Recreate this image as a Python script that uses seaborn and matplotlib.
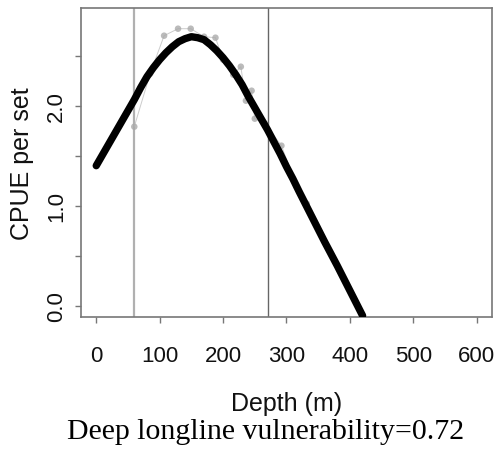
import matplotlib
matplotlib.use("Agg")
import matplotlib.pyplot as plt
import seaborn as sns
import pandas as pd

# fitted curve
curve_depth = [0, 10, 20, 30, 40, 50, 60, 70, 80, 90, 100, 110, 120, 130, 140,
               150, 160, 170, 180, 190, 200, 210, 220, 230, 240, 250, 260, 270,
               280, 290, 300, 310, 320, 340, 360, 380, 400, 420]
curve_cpue = [1.40, 1.51, 1.62, 1.73, 1.84, 1.95, 2.06, 2.18, 2.29, 2.38, 2.46,
              2.53, 2.59, 2.64, 2.67, 2.69, 2.68, 2.66, 2.61, 2.55, 2.48, 2.40,
              2.31, 2.21, 2.09, 1.98, 1.87, 1.76, 1.64, 1.52, 1.39, 1.27, 1.14,
              0.89, 0.64, 0.40, 0.15, -0.10]

# observed CPUE by depth
obs_depth = [60, 85, 107, 129, 149, 170, 188, 200, 216, 228, 236, 245, 250,
             266, 292, 316, 332]
obs_cpue = [1.79, 2.32, 2.70, 2.77, 2.77, 2.69, 2.68, 2.46, 2.31, 2.39, 2.05,
            2.15, 1.87, 1.82, 1.60, 1.19, 1.02]

vline_shallow = 59.5
vline_deep = 271

xticks = [0, 100, 200, 300, 400, 500, 600]
yticks = [0.0, 0.5, 1.0, 1.5, 2.0, 2.5]
ytick_labels = ['0.0', '', '1.0', '', '2.0', '']

sns.set_style('ticks')
plt.rcParams['font.family'] = ['Liberation Sans', 'DejaVu Sans']

curve = pd.DataFrame({'depth': curve_depth, 'cpue': curve_cpue})
obs = pd.DataFrame({'depth': obs_depth, 'cpue': obs_cpue})

fig = plt.figure(figsize=(5.01, 4.52), dpi=100)
ax = fig.add_axes([0.1617, 0.2965, 0.8203, 0.6836])

ax.axvline(vline_shallow, color='#b0b0b0', lw=1.6, zorder=1)
ax.axvline(vline_deep, color='#666666', lw=1.0, zorder=1)

sns.lineplot(data=obs, x='depth', y='cpue', color='#cccccc', lw=0.7,
             sort=False, ax=ax, zorder=2)
sns.scatterplot(data=obs, x='depth', y='cpue', color='#aaaaaa', s=22,
                edgecolor='none', alpha=0.8, ax=ax, zorder=3)
sns.lineplot(data=curve, x='depth', y='cpue', color='black', lw=5.3,
             ax=ax, zorder=4, solid_capstyle='round')

ax.set_xlim(-24, 624)
ax.set_ylim(-0.113, 2.977)
ax.set_xticks(xticks)
ax.set_xticklabels([str(t) for t in xticks])
ax.set_yticks(yticks)
ax.set_yticklabels(ytick_labels, rotation=90, va='center')

for s in ax.spines.values():
    s.set_visible(True)
    s.set_color('#777777')
    s.set_linewidth(1.2)
ax.tick_params(axis='both', direction='out', length=4, width=1.0,
               color='#777777', labelsize=16, labelcolor='#111111',
               bottom=True, left=True)
ax.tick_params(axis='x', pad=16)
ax.tick_params(axis='y', pad=6)

ax.set_xlabel('Depth (m)', fontsize=18, labelpad=18, color='#111111')
ax.set_ylabel('CPUE per set', fontsize=18, labelpad=9, color='#111111')

fig.text(0.531, 0.044, 'Deep longline vulnerability=0.72', ha='center',
         va='center', fontsize=21.5, family='Liberation Serif', color='black')

fig.savefig('out.png', dpi=100)
